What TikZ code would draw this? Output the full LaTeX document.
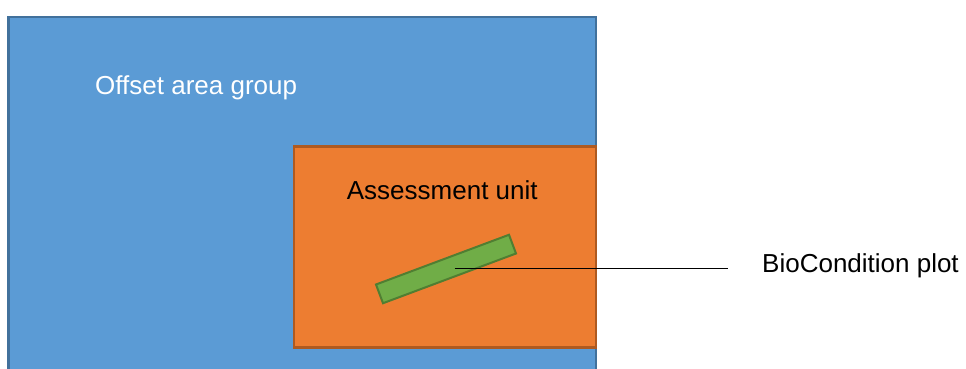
\documentclass[tikz,border=0pt]{standalone}
\usepackage{fontspec}
\setmainfont{Liberation Sans}
\definecolor{bluefill}{HTML}{5B9BD5}
\definecolor{blueedge}{HTML}{41719C}
\definecolor{orangefill}{HTML}{ED7D31}
\definecolor{orangeedge}{HTML}{AE5A21}
\definecolor{greenfill}{HTML}{70AD47}
\definecolor{greenedge}{HTML}{507E32}
\tikzset{
  label text/.style={inner sep=0pt, anchor=base west, font=\fontsize{26}{30}\selectfont},
  area box/.style={line width=2.2pt},
}
\begin{document}
\begin{tikzpicture}[x=1pt,y=1pt]
\useasboundingbox (0,0) rectangle (966,369);
\clip (0,0) rectangle (966,369);
% outer group area, running off the lower edge
\draw[area box, fill=bluefill, draw=blueedge] (8.5,352) rectangle (596,-10);
\node[label text, text=white] (group) at (95,274.7) {Offset area group};
% assessment unit inside the group
\draw[area box, fill=orangefill, draw=orangeedge] (294,222.5) rectangle (596,21.5);
\node[label text] (unit) at (346.7,169.7) {Assessment unit};
% tilted plot strip
\node[draw=greenedge, fill=greenfill, line width=2pt, minimum width=142pt, minimum height=20pt,
      inner sep=0pt, rotate=20.5] (plot) at (446,100) {};
\coordinate (lead) at (454.5,100);
\node[label text] (plotlabel) at (762,96) {BioCondition plot};
\coordinate (leadend) at (728,100);
\draw[line width=1pt, black] (lead) -- (leadend);
\end{tikzpicture}
\end{document}
